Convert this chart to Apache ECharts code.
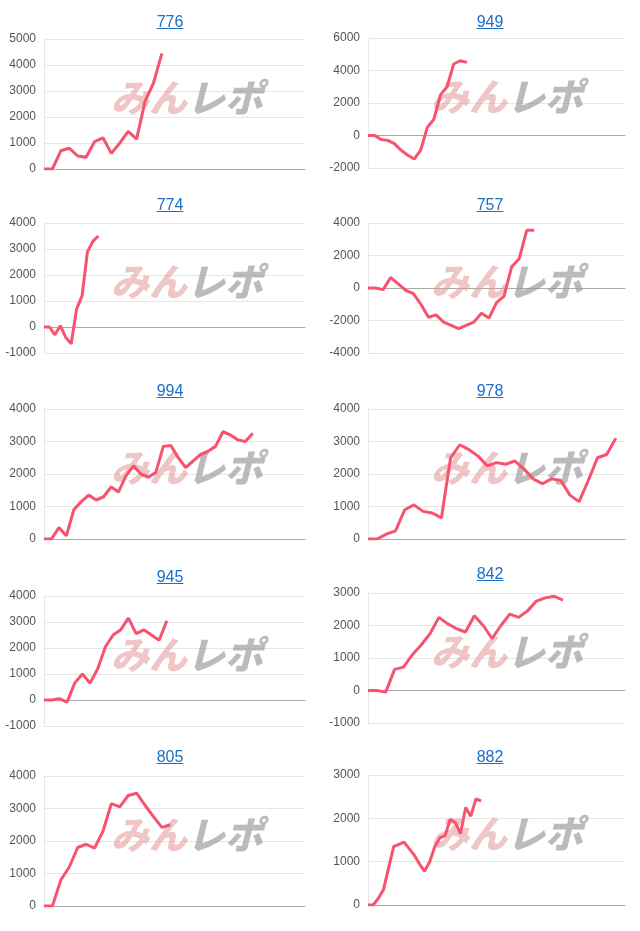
<!DOCTYPE html>
<html>
<head>
<meta charset="utf-8">
<script src="https://cdn.jsdelivr.net/npm/echarts@6/dist/echarts.min.js"></script>
<style>
  body { margin: 0; background: #fff; }
  #wrap { position: relative; width: 640px; height: 931px; }
  #chart { width: 640px; height: 931px; }
  .ttl { position: absolute; font: 16px Arial, "Liberation Sans", sans-serif; color: #1a6fc9;
         text-decoration: underline; transform: translate(-50%, -50%); }
</style>
</head>
<body>
<div id="wrap"><div id="chart"></div></div>
<script>
// chart names
var names = ['776', '949', '774', '757', '994', '978', '945', '842', '805', '882'];
// number of x slots per chart
var slots = [32, 40, 49, 35, 36, 29, 35, 30, 32, 51];
// series values
var v776 = [0, 0, 700, 800, 500, 450, 1050, 1200, 600, 1000, 1450, 1150, 2600, 3300, 4450];
var v949 = [0, 0, -250, -300, -500, -900, -1200, -1450, -900, 500, 1000, 2500, 3000, 4400, 4600, 4500];
var v774 = [0, 0, -300, 50, -400, -650, 700, 1200, 2900, 3300, 3500];
var v757 = [0, 0, -100, 650, 250, -150, -350, -1000, -1800, -1650, -2100, -2300, -2500, -2300, -2100, -1550, -1850, -900, -500, 1300, 1800, 3550, 3550];
var v994 = [0, 0, 350, 100, 900, 1150, 1350, 1200, 1300, 1600, 1450, 1950, 2250, 2000, 1900, 2050, 2850, 2880, 2500, 2200, 2400, 2600, 2700, 2850, 3300, 3200, 3050, 3000, 3250];
var v978 = [0, 0, 150, 250, 900, 1050, 850, 800, 650, 2500, 2900, 2750, 2550, 2250, 2350, 2300, 2400, 2150, 1850, 1700, 1850, 1800, 1350, 1150, 1800, 2500, 2600, 3100];
var v945 = [0, 0, 50, -80, 650, 1000, 650, 1200, 2050, 2500, 2700, 3150, 2550, 2700, 2500, 2300, 3050];
var v842 = [0, 0, -50, 650, 720, 1100, 1400, 1750, 2250, 2050, 1900, 1800, 2300, 2000, 1600, 2000, 2350, 2250, 2450, 2750, 2850, 2900, 2780];
var v805 = [0, 0, 800, 1200, 1800, 1900, 1780, 2300, 3150, 3050, 3400, 3470, 3100, 2750, 2420, 2500];
var v882 = [0, 0, 150, 350, 850, 1350, 1400, 1450, 1300, 1150, 950, 780, 1000, 1350, 1550, 1600, 1980, 1900, 1650, 2250, 2050, 2450, 2400];
var values = [v776, v949, v774, v757, v994, v978, v945, v842, v805, v882];
// y-axis ranges
var yMin = [0, -2000, -1000, -4000, 0, 0, -1000, -1000, 0, 0];
var yMax = [5000, 6000, 4000, 4000, 4000, 4000, 4000, 3000, 4000, 3000];
var yStep = [1000, 2000, 1000, 2000, 1000, 1000, 1000, 1000, 1000, 1000];

// layout (pixels)
var tops = [39, 38, 223, 223, 409, 409, 596, 593, 776, 775];
var titleY = [22, 22, 205, 205, 391, 391, 577, 574, 757, 757];

var grids = [], xAxes = [], yAxes = [], series = [], graphics = [];
var wrap = document.getElementById('wrap');
names.forEach(function (n, i) {
  var col = i % 2;
  var left = col ? 368 : 44, right = 15;
  var w = 640 / 2 * (col + 1) - right - left;
  grids.push({ left: left, top: tops[i], width: w, height: 130 });
  var cats = [];
  for (var k = 0; k < slots[i]; k++) cats.push(String(k + 1));
  xAxes.push({
    type: 'category', gridIndex: i, data: cats, boundaryGap: false,
    axisLabel: { show: false }, axisTick: { show: false },
    axisLine: { lineStyle: { color: '#aaa' } }
  });
  yAxes.push({
    type: 'value', gridIndex: i, min: yMin[i], max: yMax[i], interval: yStep[i],
    axisLabel: { color: '#555', fontSize: 12, fontFamily: 'Arial', formatter: function (v) { return String(v); } },
    axisLine: { show: true, lineStyle: { color: '#e6e6e6' } },
    splitLine: { lineStyle: { color: '#e6e6e6' } }
  });
  series.push({
    type: 'line', xAxisIndex: i, yAxisIndex: i, data: values[i],
    symbol: 'none', lineStyle: { color: '#f7536f', width: 3 }, z: 5
  });
  // watermark
  graphics.push({
    type: 'text', x: (col ? 320 : 0) + 187, y: tops[i] + 59, z: 1,
    style: {
      text: '{a|みん}{b|レポ}', align: 'center', verticalAlign: 'middle',
      rich: {
        a: { font: 'italic 900 38px "Noto Sans CJK JP"', fill: 'rgba(228,150,150,0.55)' },
        b: { font: 'italic 900 38px "Noto Sans CJK JP"', fill: 'rgba(150,150,150,0.65)' }
      }
    }
  });
  var t = document.createElement('a');
  t.className = 'ttl';
  t.textContent = n;
  t.style.left = (col ? 490 : 170) + 'px';
  t.style.top = titleY[i] + 'px';
  wrap.appendChild(t);
});

var chart = echarts.init(document.getElementById('chart'));
chart.setOption({
  animation: false,
  grid: grids, xAxis: xAxes, yAxis: yAxes, series: series, graphic: graphics
});
</script>
</body>
</html>
